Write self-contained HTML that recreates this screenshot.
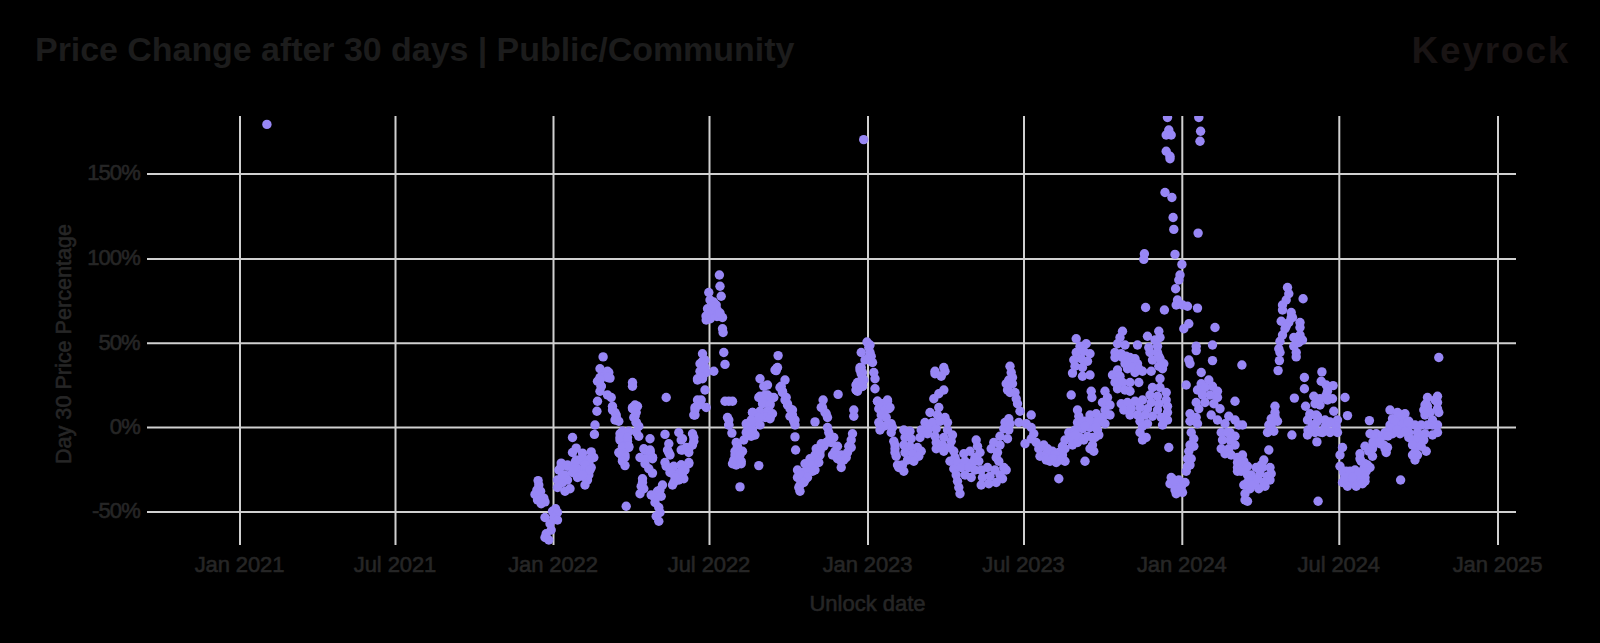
<!DOCTYPE html>
<html><head><meta charset="utf-8"><title>Price Change after 30 days</title>
<style>html,body{margin:0;padding:0;background:#000;width:1600px;height:643px;overflow:hidden}svg{display:block}text{font-family:"Liberation Sans",sans-serif}</style>
</head><body><svg width="1600" height="643" viewBox="0 0 1600 643"><text x="35" y="60.5" fill="#1c1c1c" font-size="34" font-weight="bold" letter-spacing="-0.05">Price Change after 30 days | Public/Community</text><text x="1411.5" y="62.5" fill="#191414" font-size="37" font-weight="bold" letter-spacing="1.8">Keyrock</text><g fill="#262626" stroke="#262626" stroke-width="0.6" font-size="21"><text x="139.8" y="180.3" text-anchor="end" font-size="22" letter-spacing="-0.9">150%</text><text x="139.8" y="265.3" text-anchor="end" font-size="22" letter-spacing="-0.9">100%</text><text x="139.8" y="349.6" text-anchor="end" font-size="22" letter-spacing="-0.9">50%</text><text x="139.8" y="433.8" text-anchor="end" font-size="22" letter-spacing="-0.9">0%</text><text x="139.8" y="518.3" text-anchor="end" font-size="22" letter-spacing="-0.9">-50%</text><text x="239.5" y="572" text-anchor="middle" font-size="22" letter-spacing="-0.1">Jan 2021</text><text x="395.0" y="572" text-anchor="middle" font-size="22" letter-spacing="-0.1">Jul 2021</text><text x="553.0" y="572" text-anchor="middle" font-size="22" letter-spacing="-0.1">Jan 2022</text><text x="709.0" y="572" text-anchor="middle" font-size="22" letter-spacing="-0.1">Jul 2022</text><text x="867.5" y="572" text-anchor="middle" font-size="22" letter-spacing="-0.1">Jan 2023</text><text x="1023.5" y="572" text-anchor="middle" font-size="22" letter-spacing="-0.1">Jul 2023</text><text x="1181.8" y="572" text-anchor="middle" font-size="22" letter-spacing="-0.1">Jan 2024</text><text x="1338.8" y="572" text-anchor="middle" font-size="22" letter-spacing="-0.1">Jul 2024</text><text x="1497.5" y="572" text-anchor="middle" font-size="22" letter-spacing="-0.1">Jan 2025</text><text x="867.5" y="611" text-anchor="middle" font-size="22">Unlock date</text><text transform="translate(70.5 344) rotate(-90)" text-anchor="middle" font-size="21.6">Day 30 Price Percentage</text></g><g stroke="#d0d0d0" stroke-width="2"><line x1="147" y1="174" x2="1516" y2="174"/><line x1="147" y1="259" x2="1516" y2="259"/><line x1="147" y1="343.3" x2="1516" y2="343.3"/><line x1="147" y1="427.5" x2="1516" y2="427.5"/><line x1="147" y1="512" x2="1516" y2="512"/><line x1="240" y1="116" x2="240" y2="545"/><line x1="395.5" y1="116" x2="395.5" y2="545"/><line x1="553.5" y1="116" x2="553.5" y2="545"/><line x1="709.5" y1="116" x2="709.5" y2="545"/><line x1="868" y1="116" x2="868" y2="545"/><line x1="1024" y1="116" x2="1024" y2="545"/><line x1="1182.3" y1="116" x2="1182.3" y2="545"/><line x1="1339.3" y1="116" x2="1339.3" y2="545"/><line x1="1498" y1="116" x2="1498" y2="545"/></g><defs><clipPath id="pc"><rect x="147" y="116" width="1369" height="429"/></clipPath></defs><g fill="#9887f5" clip-path="url(#pc)"><circle cx="538.1" cy="480.6" r="4.7"/><circle cx="538.8" cy="485.0" r="4.7"/><circle cx="536.9" cy="490.0" r="4.7"/><circle cx="540.6" cy="491.2" r="4.7"/><circle cx="535.0" cy="494.4" r="4.7"/><circle cx="540.0" cy="495.6" r="4.7"/><circle cx="543.8" cy="498.1" r="4.7"/><circle cx="537.5" cy="500.0" r="4.7"/><circle cx="545.0" cy="501.9" r="4.7"/><circle cx="541.2" cy="503.8" r="4.7"/><circle cx="555.6" cy="508.8" r="4.7"/><circle cx="572.5" cy="437.5" r="4.7"/><circle cx="594.4" cy="434.4" r="4.7"/><circle cx="576.2" cy="448.1" r="4.7"/><circle cx="572.5" cy="452.5" r="4.7"/><circle cx="582.5" cy="453.1" r="4.7"/><circle cx="591.2" cy="451.9" r="4.7"/><circle cx="593.8" cy="457.5" r="4.7"/><circle cx="561.2" cy="463.1" r="4.7"/><circle cx="558.8" cy="470.0" r="4.7"/><circle cx="567.5" cy="466.2" r="4.7"/><circle cx="575.0" cy="462.5" r="4.7"/><circle cx="582.5" cy="461.2" r="4.7"/><circle cx="588.8" cy="462.5" r="4.7"/><circle cx="591.2" cy="467.5" r="4.7"/><circle cx="577.5" cy="468.8" r="4.7"/><circle cx="585.0" cy="470.0" r="4.7"/><circle cx="572.5" cy="472.5" r="4.7"/><circle cx="565.0" cy="475.0" r="4.7"/><circle cx="557.5" cy="480.0" r="4.7"/><circle cx="562.5" cy="482.5" r="4.7"/><circle cx="557.5" cy="487.5" r="4.7"/><circle cx="565.0" cy="491.2" r="4.7"/><circle cx="570.0" cy="488.8" r="4.7"/><circle cx="567.5" cy="480.0" r="4.7"/><circle cx="577.5" cy="477.5" r="4.7"/><circle cx="582.5" cy="476.2" r="4.7"/><circle cx="587.5" cy="480.0" r="4.7"/><circle cx="585.0" cy="485.0" r="4.7"/><circle cx="588.8" cy="475.0" r="4.7"/><circle cx="620.0" cy="433.8" r="4.7"/><circle cx="627.5" cy="432.5" r="4.7"/><circle cx="636.2" cy="431.9" r="4.7"/><circle cx="620.0" cy="440.0" r="4.7"/><circle cx="627.5" cy="441.2" r="4.7"/><circle cx="622.5" cy="446.2" r="4.7"/><circle cx="628.8" cy="447.5" r="4.7"/><circle cx="618.8" cy="452.5" r="4.7"/><circle cx="625.0" cy="455.0" r="4.7"/><circle cx="622.5" cy="460.0" r="4.7"/><circle cx="625.0" cy="465.6" r="4.7"/><circle cx="638.8" cy="436.2" r="4.7"/><circle cx="650.0" cy="438.8" r="4.7"/><circle cx="665.0" cy="434.4" r="4.7"/><circle cx="678.8" cy="432.5" r="4.7"/><circle cx="682.5" cy="438.8" r="4.7"/><circle cx="692.5" cy="433.8" r="4.7"/><circle cx="693.8" cy="441.2" r="4.7"/><circle cx="688.8" cy="448.8" r="4.7"/><circle cx="681.2" cy="450.0" r="4.7"/><circle cx="668.8" cy="443.8" r="4.7"/><circle cx="668.8" cy="452.5" r="4.7"/><circle cx="643.8" cy="448.8" r="4.7"/><circle cx="650.0" cy="451.2" r="4.7"/><circle cx="652.5" cy="457.5" r="4.7"/><circle cx="640.0" cy="457.5" r="4.7"/><circle cx="645.0" cy="463.8" r="4.7"/><circle cx="648.8" cy="468.8" r="4.7"/><circle cx="652.5" cy="473.1" r="4.7"/><circle cx="665.0" cy="462.5" r="4.7"/><circle cx="672.5" cy="467.5" r="4.7"/><circle cx="681.2" cy="465.0" r="4.7"/><circle cx="688.8" cy="462.5" r="4.7"/><circle cx="682.5" cy="472.5" r="4.7"/><circle cx="675.0" cy="475.0" r="4.7"/><circle cx="683.8" cy="478.8" r="4.7"/><circle cx="673.8" cy="482.5" r="4.7"/><circle cx="642.5" cy="478.8" r="4.7"/><circle cx="641.2" cy="486.2" r="4.7"/><circle cx="640.0" cy="493.8" r="4.7"/><circle cx="662.5" cy="485.0" r="4.7"/><circle cx="657.5" cy="491.2" r="4.7"/><circle cx="653.8" cy="496.2" r="4.7"/><circle cx="655.0" cy="502.5" r="4.7"/><circle cx="658.8" cy="507.5" r="4.7"/><circle cx="626.2" cy="506.2" r="4.7"/><circle cx="603.1" cy="356.9" r="4.7"/><circle cx="600.0" cy="368.8" r="4.7"/><circle cx="608.8" cy="372.5" r="4.7"/><circle cx="610.0" cy="378.1" r="4.7"/><circle cx="600.0" cy="377.5" r="4.7"/><circle cx="605.0" cy="375.0" r="4.7"/><circle cx="597.5" cy="381.2" r="4.7"/><circle cx="601.2" cy="386.2" r="4.7"/><circle cx="600.0" cy="391.2" r="4.7"/><circle cx="607.5" cy="395.0" r="4.7"/><circle cx="611.2" cy="397.5" r="4.7"/><circle cx="597.5" cy="401.2" r="4.7"/><circle cx="596.9" cy="411.2" r="4.7"/><circle cx="612.5" cy="406.2" r="4.7"/><circle cx="615.0" cy="412.5" r="4.7"/><circle cx="616.2" cy="417.5" r="4.7"/><circle cx="618.8" cy="421.2" r="4.7"/><circle cx="595.0" cy="425.0" r="4.7"/><circle cx="632.5" cy="382.5" r="4.7"/><circle cx="632.5" cy="386.2" r="4.7"/><circle cx="666.2" cy="397.5" r="4.7"/><circle cx="635.0" cy="405.0" r="4.7"/><circle cx="632.5" cy="408.8" r="4.7"/><circle cx="636.2" cy="412.5" r="4.7"/><circle cx="633.8" cy="417.5" r="4.7"/><circle cx="636.2" cy="422.5" r="4.7"/><circle cx="638.8" cy="426.2" r="4.7"/><circle cx="697.5" cy="378.8" r="4.7"/><circle cx="697.5" cy="400.0" r="4.7"/><circle cx="695.0" cy="407.5" r="4.7"/><circle cx="693.8" cy="415.0" r="4.7"/><circle cx="719.4" cy="275.0" r="4.7"/><circle cx="720.0" cy="286.2" r="4.7"/><circle cx="721.2" cy="296.2" r="4.7"/><circle cx="708.8" cy="292.5" r="4.7"/><circle cx="710.0" cy="300.0" r="4.7"/><circle cx="716.2" cy="305.0" r="4.7"/><circle cx="707.5" cy="308.8" r="4.7"/><circle cx="713.8" cy="311.2" r="4.7"/><circle cx="720.0" cy="316.2" r="4.7"/><circle cx="706.2" cy="320.0" r="4.7"/><circle cx="722.5" cy="317.5" r="4.7"/><circle cx="722.5" cy="328.8" r="4.7"/><circle cx="723.1" cy="332.5" r="4.7"/><circle cx="702.5" cy="353.8" r="4.7"/><circle cx="705.0" cy="360.0" r="4.7"/><circle cx="702.5" cy="367.5" r="4.7"/><circle cx="706.2" cy="372.5" r="4.7"/><circle cx="713.8" cy="371.2" r="4.7"/><circle cx="702.5" cy="378.8" r="4.7"/><circle cx="705.0" cy="390.0" r="4.7"/><circle cx="701.2" cy="400.0" r="4.7"/><circle cx="706.2" cy="407.5" r="4.7"/><circle cx="723.8" cy="352.5" r="4.7"/><circle cx="725.0" cy="364.4" r="4.7"/><circle cx="728.8" cy="401.2" r="4.7"/><circle cx="727.5" cy="417.5" r="4.7"/><circle cx="728.8" cy="425.0" r="4.7"/><circle cx="778.1" cy="355.6" r="4.7"/><circle cx="776.9" cy="368.1" r="4.7"/><circle cx="776.2" cy="370.6" r="4.7"/><circle cx="760.0" cy="378.8" r="4.7"/><circle cx="767.5" cy="385.0" r="4.7"/><circle cx="763.8" cy="386.2" r="4.7"/><circle cx="785.0" cy="380.0" r="4.7"/><circle cx="781.2" cy="386.2" r="4.7"/><circle cx="782.5" cy="391.2" r="4.7"/><circle cx="760.0" cy="396.2" r="4.7"/><circle cx="767.5" cy="395.0" r="4.7"/><circle cx="773.8" cy="397.5" r="4.7"/><circle cx="765.0" cy="402.5" r="4.7"/><circle cx="770.0" cy="403.8" r="4.7"/><circle cx="786.2" cy="397.5" r="4.7"/><circle cx="787.5" cy="403.8" r="4.7"/><circle cx="790.0" cy="408.8" r="4.7"/><circle cx="792.5" cy="415.0" r="4.7"/><circle cx="793.8" cy="421.2" r="4.7"/><circle cx="795.0" cy="425.0" r="4.7"/><circle cx="752.5" cy="412.5" r="4.7"/><circle cx="760.0" cy="411.2" r="4.7"/><circle cx="766.2" cy="415.0" r="4.7"/><circle cx="770.0" cy="417.5" r="4.7"/><circle cx="746.2" cy="423.8" r="4.7"/><circle cx="753.8" cy="422.5" r="4.7"/><circle cx="760.0" cy="425.0" r="4.7"/><circle cx="838.1" cy="394.4" r="4.7"/><circle cx="823.1" cy="400.0" r="4.7"/><circle cx="821.2" cy="407.5" r="4.7"/><circle cx="825.0" cy="412.5" r="4.7"/><circle cx="827.5" cy="417.5" r="4.7"/><circle cx="815.0" cy="421.9" r="4.7"/><circle cx="827.5" cy="427.5" r="4.7"/><circle cx="853.8" cy="410.0" r="4.7"/><circle cx="853.8" cy="416.2" r="4.7"/><circle cx="861.2" cy="352.5" r="4.7"/><circle cx="868.8" cy="357.5" r="4.7"/><circle cx="872.5" cy="362.5" r="4.7"/><circle cx="860.0" cy="367.5" r="4.7"/><circle cx="861.2" cy="373.8" r="4.7"/><circle cx="873.8" cy="372.5" r="4.7"/><circle cx="875.0" cy="378.8" r="4.7"/><circle cx="857.5" cy="382.5" r="4.7"/><circle cx="862.5" cy="386.2" r="4.7"/><circle cx="856.2" cy="390.0" r="4.7"/><circle cx="875.0" cy="388.8" r="4.7"/><circle cx="877.5" cy="401.2" r="4.7"/><circle cx="887.5" cy="400.0" r="4.7"/><circle cx="881.2" cy="406.2" r="4.7"/><circle cx="888.8" cy="408.8" r="4.7"/><circle cx="883.8" cy="415.0" r="4.7"/><circle cx="878.8" cy="422.5" r="4.7"/><circle cx="891.2" cy="423.8" r="4.7"/><circle cx="883.8" cy="426.2" r="4.7"/><circle cx="731.9" cy="433.1" r="4.7"/><circle cx="746.2" cy="432.5" r="4.7"/><circle cx="751.2" cy="436.2" r="4.7"/><circle cx="743.8" cy="440.0" r="4.7"/><circle cx="736.2" cy="442.5" r="4.7"/><circle cx="737.5" cy="448.8" r="4.7"/><circle cx="742.5" cy="451.2" r="4.7"/><circle cx="735.0" cy="455.0" r="4.7"/><circle cx="733.8" cy="460.0" r="4.7"/><circle cx="741.2" cy="461.2" r="4.7"/><circle cx="736.2" cy="465.0" r="4.7"/><circle cx="758.8" cy="465.6" r="4.7"/><circle cx="740.0" cy="486.9" r="4.7"/><circle cx="795.0" cy="436.9" r="4.7"/><circle cx="795.6" cy="450.0" r="4.7"/><circle cx="828.8" cy="432.5" r="4.7"/><circle cx="833.8" cy="437.5" r="4.7"/><circle cx="831.2" cy="442.5" r="4.7"/><circle cx="821.2" cy="443.8" r="4.7"/><circle cx="816.2" cy="448.8" r="4.7"/><circle cx="852.5" cy="433.8" r="4.7"/><circle cx="851.2" cy="440.0" r="4.7"/><circle cx="848.8" cy="446.2" r="4.7"/><circle cx="847.5" cy="452.5" r="4.7"/><circle cx="841.2" cy="455.0" r="4.7"/><circle cx="835.0" cy="451.2" r="4.7"/><circle cx="837.5" cy="458.8" r="4.7"/><circle cx="843.8" cy="460.0" r="4.7"/><circle cx="841.2" cy="467.5" r="4.7"/><circle cx="820.0" cy="455.0" r="4.7"/><circle cx="817.5" cy="460.0" r="4.7"/><circle cx="812.5" cy="463.8" r="4.7"/><circle cx="807.5" cy="467.5" r="4.7"/><circle cx="797.5" cy="470.0" r="4.7"/><circle cx="802.5" cy="472.5" r="4.7"/><circle cx="812.5" cy="471.2" r="4.7"/><circle cx="797.5" cy="477.5" r="4.7"/><circle cx="805.0" cy="480.0" r="4.7"/><circle cx="800.0" cy="485.0" r="4.7"/><circle cx="800.0" cy="491.2" r="4.7"/><circle cx="880.0" cy="430.0" r="4.7"/><circle cx="891.2" cy="432.5" r="4.7"/><circle cx="893.8" cy="441.2" r="4.7"/><circle cx="895.0" cy="448.8" r="4.7"/><circle cx="896.2" cy="456.2" r="4.7"/><circle cx="898.8" cy="467.5" r="4.7"/><circle cx="935.0" cy="371.2" r="4.7"/><circle cx="943.8" cy="367.5" r="4.7"/><circle cx="941.2" cy="376.2" r="4.7"/><circle cx="943.8" cy="390.0" r="4.7"/><circle cx="938.8" cy="393.8" r="4.7"/><circle cx="933.8" cy="398.8" r="4.7"/><circle cx="938.8" cy="407.5" r="4.7"/><circle cx="930.0" cy="412.5" r="4.7"/><circle cx="937.5" cy="415.0" r="4.7"/><circle cx="945.0" cy="417.5" r="4.7"/><circle cx="1010.0" cy="366.2" r="4.7"/><circle cx="1011.2" cy="372.5" r="4.7"/><circle cx="1008.8" cy="380.0" r="4.7"/><circle cx="1012.5" cy="383.8" r="4.7"/><circle cx="1007.5" cy="390.0" r="4.7"/><circle cx="1015.0" cy="392.5" r="4.7"/><circle cx="1016.2" cy="398.8" r="4.7"/><circle cx="1017.5" cy="403.8" r="4.7"/><circle cx="1020.0" cy="411.2" r="4.7"/><circle cx="1031.2" cy="415.0" r="4.7"/><circle cx="1008.8" cy="418.8" r="4.7"/><circle cx="867.0" cy="342.0" r="4.7"/><circle cx="870.0" cy="345.0" r="4.7"/><circle cx="863.7" cy="139.6" r="4.7"/><circle cx="903.8" cy="430.0" r="4.7"/><circle cx="910.0" cy="431.2" r="4.7"/><circle cx="905.0" cy="437.5" r="4.7"/><circle cx="911.2" cy="438.8" r="4.7"/><circle cx="903.8" cy="445.0" r="4.7"/><circle cx="910.0" cy="446.2" r="4.7"/><circle cx="917.5" cy="447.5" r="4.7"/><circle cx="921.2" cy="451.2" r="4.7"/><circle cx="905.0" cy="452.5" r="4.7"/><circle cx="912.5" cy="453.8" r="4.7"/><circle cx="918.8" cy="456.2" r="4.7"/><circle cx="907.5" cy="460.0" r="4.7"/><circle cx="913.8" cy="461.2" r="4.7"/><circle cx="902.5" cy="465.0" r="4.7"/><circle cx="903.8" cy="471.2" r="4.7"/><circle cx="925.0" cy="422.5" r="4.7"/><circle cx="932.5" cy="422.5" r="4.7"/><circle cx="940.0" cy="421.2" r="4.7"/><circle cx="947.5" cy="422.5" r="4.7"/><circle cx="921.2" cy="430.0" r="4.7"/><circle cx="928.8" cy="428.8" r="4.7"/><circle cx="936.2" cy="428.8" r="4.7"/><circle cx="947.5" cy="430.0" r="4.7"/><circle cx="952.5" cy="435.0" r="4.7"/><circle cx="920.0" cy="437.5" r="4.7"/><circle cx="927.5" cy="433.8" r="4.7"/><circle cx="935.0" cy="436.2" r="4.7"/><circle cx="943.8" cy="437.5" r="4.7"/><circle cx="951.2" cy="441.2" r="4.7"/><circle cx="936.2" cy="442.5" r="4.7"/><circle cx="942.5" cy="445.0" r="4.7"/><circle cx="950.0" cy="447.5" r="4.7"/><circle cx="936.2" cy="448.8" r="4.7"/><circle cx="943.8" cy="451.2" r="4.7"/><circle cx="953.8" cy="451.2" r="4.7"/><circle cx="976.2" cy="440.0" r="4.7"/><circle cx="977.5" cy="446.2" r="4.7"/><circle cx="980.0" cy="452.5" r="4.7"/><circle cx="975.0" cy="457.5" r="4.7"/><circle cx="970.0" cy="451.2" r="4.7"/><circle cx="963.8" cy="453.8" r="4.7"/><circle cx="955.0" cy="457.5" r="4.7"/><circle cx="950.0" cy="461.2" r="4.7"/><circle cx="957.5" cy="462.5" r="4.7"/><circle cx="965.0" cy="461.2" r="4.7"/><circle cx="972.5" cy="462.5" r="4.7"/><circle cx="978.8" cy="461.2" r="4.7"/><circle cx="953.8" cy="468.8" r="4.7"/><circle cx="961.2" cy="467.5" r="4.7"/><circle cx="968.8" cy="467.5" r="4.7"/><circle cx="975.0" cy="470.0" r="4.7"/><circle cx="956.2" cy="475.0" r="4.7"/><circle cx="965.0" cy="475.0" r="4.7"/><circle cx="971.2" cy="477.5" r="4.7"/><circle cx="957.5" cy="481.2" r="4.7"/><circle cx="958.8" cy="487.5" r="4.7"/><circle cx="960.0" cy="493.8" r="4.7"/><circle cx="981.2" cy="470.0" r="4.7"/><circle cx="987.5" cy="467.5" r="4.7"/><circle cx="995.0" cy="470.0" r="4.7"/><circle cx="1003.8" cy="467.5" r="4.7"/><circle cx="982.5" cy="477.5" r="4.7"/><circle cx="990.0" cy="476.2" r="4.7"/><circle cx="1000.0" cy="475.0" r="4.7"/><circle cx="1006.2" cy="470.0" r="4.7"/><circle cx="981.2" cy="485.0" r="4.7"/><circle cx="988.8" cy="483.8" r="4.7"/><circle cx="996.2" cy="482.5" r="4.7"/><circle cx="1002.5" cy="478.8" r="4.7"/><circle cx="1005.0" cy="422.5" r="4.7"/><circle cx="1010.0" cy="423.8" r="4.7"/><circle cx="1003.8" cy="428.8" r="4.7"/><circle cx="1008.8" cy="430.0" r="4.7"/><circle cx="1000.0" cy="436.2" r="4.7"/><circle cx="1007.5" cy="438.8" r="4.7"/><circle cx="993.8" cy="442.5" r="4.7"/><circle cx="1000.0" cy="445.0" r="4.7"/><circle cx="991.2" cy="448.8" r="4.7"/><circle cx="997.5" cy="452.5" r="4.7"/><circle cx="996.2" cy="457.5" r="4.7"/><circle cx="998.8" cy="461.2" r="4.7"/><circle cx="1018.8" cy="422.5" r="4.7"/><circle cx="1026.2" cy="423.8" r="4.7"/><circle cx="1031.2" cy="427.5" r="4.7"/><circle cx="1033.8" cy="433.8" r="4.7"/><circle cx="1025.0" cy="443.8" r="4.7"/><circle cx="1031.2" cy="438.8" r="4.7"/><circle cx="1036.2" cy="442.5" r="4.7"/><circle cx="1038.8" cy="448.8" r="4.7"/><circle cx="1043.8" cy="445.0" r="4.7"/><circle cx="1040.0" cy="456.2" r="4.7"/><circle cx="1046.2" cy="453.8" r="4.7"/><circle cx="1052.5" cy="451.2" r="4.7"/><circle cx="1058.8" cy="452.5" r="4.7"/><circle cx="1062.5" cy="455.0" r="4.7"/><circle cx="1065.0" cy="461.2" r="4.7"/><circle cx="1050.0" cy="461.2" r="4.7"/><circle cx="1056.2" cy="462.5" r="4.7"/><circle cx="1085.0" cy="461.2" r="4.7"/><circle cx="1058.8" cy="478.8" r="4.7"/><circle cx="1077.5" cy="422.5" r="4.7"/><circle cx="1085.0" cy="421.2" r="4.7"/><circle cx="1095.0" cy="422.5" r="4.7"/><circle cx="1068.8" cy="432.5" r="4.7"/><circle cx="1075.0" cy="430.0" r="4.7"/><circle cx="1082.5" cy="428.8" r="4.7"/><circle cx="1090.0" cy="427.5" r="4.7"/><circle cx="1097.5" cy="430.0" r="4.7"/><circle cx="1065.0" cy="440.0" r="4.7"/><circle cx="1072.5" cy="438.8" r="4.7"/><circle cx="1080.0" cy="437.5" r="4.7"/><circle cx="1087.5" cy="436.2" r="4.7"/><circle cx="1095.0" cy="437.5" r="4.7"/><circle cx="1062.5" cy="446.2" r="4.7"/><circle cx="1072.5" cy="445.0" r="4.7"/><circle cx="1092.5" cy="445.0" r="4.7"/><circle cx="1093.8" cy="451.2" r="4.7"/><circle cx="1167.5" cy="117.5" r="4.7"/><circle cx="1198.8" cy="117.5" r="4.7"/><circle cx="1168.8" cy="130.0" r="4.7"/><circle cx="1166.2" cy="135.0" r="4.7"/><circle cx="1171.2" cy="135.0" r="4.7"/><circle cx="1200.6" cy="131.2" r="4.7"/><circle cx="1200.0" cy="141.2" r="4.7"/><circle cx="1166.2" cy="151.2" r="4.7"/><circle cx="1170.0" cy="156.2" r="4.7"/><circle cx="1170.0" cy="158.8" r="4.7"/><circle cx="1165.0" cy="192.5" r="4.7"/><circle cx="1171.9" cy="197.5" r="4.7"/><circle cx="1173.1" cy="217.5" r="4.7"/><circle cx="1173.8" cy="229.4" r="4.7"/><circle cx="1198.1" cy="233.1" r="4.7"/><circle cx="1144.4" cy="253.8" r="4.7"/><circle cx="1143.8" cy="259.4" r="4.7"/><circle cx="1175.0" cy="254.4" r="4.7"/><circle cx="1181.9" cy="264.4" r="4.7"/><circle cx="1180.0" cy="275.0" r="4.7"/><circle cx="1178.8" cy="280.0" r="4.7"/><circle cx="1175.6" cy="288.8" r="4.7"/><circle cx="1177.5" cy="300.0" r="4.7"/><circle cx="1176.2" cy="305.0" r="4.7"/><circle cx="1182.5" cy="305.0" r="4.7"/><circle cx="1187.5" cy="306.2" r="4.7"/><circle cx="1197.5" cy="308.1" r="4.7"/><circle cx="1145.6" cy="307.5" r="4.7"/><circle cx="1164.4" cy="310.0" r="4.7"/><circle cx="1188.8" cy="323.8" r="4.7"/><circle cx="1183.8" cy="328.8" r="4.7"/><circle cx="1215.0" cy="327.5" r="4.7"/><circle cx="1122.5" cy="331.2" r="4.7"/><circle cx="1120.0" cy="337.5" r="4.7"/><circle cx="1117.5" cy="343.8" r="4.7"/><circle cx="1125.0" cy="345.0" r="4.7"/><circle cx="1076.2" cy="338.8" r="4.7"/><circle cx="1086.2" cy="343.8" r="4.7"/><circle cx="1080.0" cy="346.2" r="4.7"/><circle cx="1147.5" cy="336.2" r="4.7"/><circle cx="1158.8" cy="331.2" r="4.7"/><circle cx="1160.0" cy="337.5" r="4.7"/><circle cx="1155.0" cy="340.0" r="4.7"/><circle cx="1137.5" cy="345.0" r="4.7"/><circle cx="1148.8" cy="347.5" r="4.7"/><circle cx="1157.5" cy="346.2" r="4.7"/><circle cx="1196.2" cy="346.2" r="4.7"/><circle cx="1212.5" cy="345.0" r="4.7"/><circle cx="1076.2" cy="352.5" r="4.7"/><circle cx="1083.8" cy="351.2" r="4.7"/><circle cx="1090.0" cy="353.8" r="4.7"/><circle cx="1073.8" cy="360.0" r="4.7"/><circle cx="1081.2" cy="358.8" r="4.7"/><circle cx="1087.5" cy="361.2" r="4.7"/><circle cx="1075.0" cy="366.2" r="4.7"/><circle cx="1082.5" cy="367.5" r="4.7"/><circle cx="1072.5" cy="373.1" r="4.7"/><circle cx="1082.5" cy="376.2" r="4.7"/><circle cx="1090.0" cy="375.0" r="4.7"/><circle cx="1071.2" cy="395.0" r="4.7"/><circle cx="1091.2" cy="391.2" r="4.7"/><circle cx="1091.9" cy="397.5" r="4.7"/><circle cx="1105.0" cy="391.2" r="4.7"/><circle cx="1107.5" cy="397.5" r="4.7"/><circle cx="1102.5" cy="402.5" r="4.7"/><circle cx="1110.0" cy="405.0" r="4.7"/><circle cx="1105.0" cy="410.0" r="4.7"/><circle cx="1110.0" cy="415.0" r="4.7"/><circle cx="1077.5" cy="410.0" r="4.7"/><circle cx="1078.8" cy="416.2" r="4.7"/><circle cx="1090.0" cy="415.0" r="4.7"/><circle cx="1096.2" cy="413.8" r="4.7"/><circle cx="1102.5" cy="417.5" r="4.7"/><circle cx="1081.2" cy="422.5" r="4.7"/><circle cx="1090.0" cy="421.2" r="4.7"/><circle cx="1097.5" cy="422.5" r="4.7"/><circle cx="1105.0" cy="423.8" r="4.7"/><circle cx="1085.0" cy="426.2" r="4.7"/><circle cx="1096.2" cy="426.9" r="4.7"/><circle cx="1115.0" cy="352.5" r="4.7"/><circle cx="1121.2" cy="353.8" r="4.7"/><circle cx="1126.2" cy="356.2" r="4.7"/><circle cx="1131.2" cy="362.5" r="4.7"/><circle cx="1137.5" cy="363.8" r="4.7"/><circle cx="1127.5" cy="368.8" r="4.7"/><circle cx="1117.5" cy="370.0" r="4.7"/><circle cx="1112.5" cy="375.0" r="4.7"/><circle cx="1120.0" cy="376.2" r="4.7"/><circle cx="1135.0" cy="372.5" r="4.7"/><circle cx="1142.5" cy="371.2" r="4.7"/><circle cx="1151.2" cy="371.2" r="4.7"/><circle cx="1158.8" cy="366.2" r="4.7"/><circle cx="1162.5" cy="368.8" r="4.7"/><circle cx="1160.0" cy="378.8" r="4.7"/><circle cx="1115.0" cy="382.5" r="4.7"/><circle cx="1122.5" cy="382.5" r="4.7"/><circle cx="1130.0" cy="382.5" r="4.7"/><circle cx="1138.8" cy="382.5" r="4.7"/><circle cx="1117.5" cy="388.8" r="4.7"/><circle cx="1125.0" cy="390.0" r="4.7"/><circle cx="1130.0" cy="391.2" r="4.7"/><circle cx="1150.0" cy="352.5" r="4.7"/><circle cx="1157.5" cy="352.5" r="4.7"/><circle cx="1152.5" cy="360.0" r="4.7"/><circle cx="1160.0" cy="358.8" r="4.7"/><circle cx="1152.5" cy="387.5" r="4.7"/><circle cx="1160.0" cy="387.5" r="4.7"/><circle cx="1166.2" cy="392.5" r="4.7"/><circle cx="1150.0" cy="395.0" r="4.7"/><circle cx="1157.5" cy="396.2" r="4.7"/><circle cx="1166.2" cy="400.0" r="4.7"/><circle cx="1151.2" cy="402.5" r="4.7"/><circle cx="1158.8" cy="403.8" r="4.7"/><circle cx="1167.5" cy="406.2" r="4.7"/><circle cx="1121.2" cy="403.8" r="4.7"/><circle cx="1127.5" cy="402.5" r="4.7"/><circle cx="1135.0" cy="401.2" r="4.7"/><circle cx="1142.5" cy="400.0" r="4.7"/><circle cx="1123.8" cy="410.0" r="4.7"/><circle cx="1131.2" cy="408.8" r="4.7"/><circle cx="1140.0" cy="407.5" r="4.7"/><circle cx="1147.5" cy="408.8" r="4.7"/><circle cx="1157.5" cy="410.0" r="4.7"/><circle cx="1167.5" cy="412.5" r="4.7"/><circle cx="1130.0" cy="415.0" r="4.7"/><circle cx="1137.5" cy="415.0" r="4.7"/><circle cx="1145.0" cy="415.0" r="4.7"/><circle cx="1152.5" cy="416.2" r="4.7"/><circle cx="1161.2" cy="417.5" r="4.7"/><circle cx="1167.5" cy="420.0" r="4.7"/><circle cx="1140.0" cy="421.2" r="4.7"/><circle cx="1147.5" cy="423.8" r="4.7"/><circle cx="1162.5" cy="425.0" r="4.7"/><circle cx="1142.5" cy="426.2" r="4.7"/><circle cx="1188.8" cy="360.0" r="4.7"/><circle cx="1190.0" cy="363.8" r="4.7"/><circle cx="1212.5" cy="360.6" r="4.7"/><circle cx="1201.2" cy="372.5" r="4.7"/><circle cx="1186.2" cy="385.0" r="4.7"/><circle cx="1201.2" cy="383.8" r="4.7"/><circle cx="1208.8" cy="380.0" r="4.7"/><circle cx="1197.5" cy="390.0" r="4.7"/><circle cx="1205.0" cy="387.5" r="4.7"/><circle cx="1212.5" cy="386.2" r="4.7"/><circle cx="1217.5" cy="391.2" r="4.7"/><circle cx="1202.5" cy="395.0" r="4.7"/><circle cx="1210.0" cy="395.0" r="4.7"/><circle cx="1217.5" cy="397.5" r="4.7"/><circle cx="1196.2" cy="402.5" r="4.7"/><circle cx="1205.0" cy="402.5" r="4.7"/><circle cx="1213.8" cy="403.8" r="4.7"/><circle cx="1220.0" cy="408.8" r="4.7"/><circle cx="1198.8" cy="408.8" r="4.7"/><circle cx="1235.0" cy="401.2" r="4.7"/><circle cx="1190.0" cy="413.8" r="4.7"/><circle cx="1196.2" cy="417.5" r="4.7"/><circle cx="1190.0" cy="421.2" r="4.7"/><circle cx="1197.5" cy="423.8" r="4.7"/><circle cx="1211.2" cy="415.0" r="4.7"/><circle cx="1217.5" cy="420.0" r="4.7"/><circle cx="1225.0" cy="423.8" r="4.7"/><circle cx="1228.8" cy="416.2" r="4.7"/><circle cx="1235.0" cy="420.0" r="4.7"/><circle cx="1238.8" cy="425.0" r="4.7"/><circle cx="1196.2" cy="350.6" r="4.7"/><circle cx="1140.0" cy="432.5" r="4.7"/><circle cx="1146.2" cy="437.5" r="4.7"/><circle cx="1142.5" cy="440.0" r="4.7"/><circle cx="1168.8" cy="447.5" r="4.7"/><circle cx="1171.2" cy="477.5" r="4.7"/><circle cx="1170.0" cy="483.8" r="4.7"/><circle cx="1178.8" cy="480.0" r="4.7"/><circle cx="1185.0" cy="482.5" r="4.7"/><circle cx="1177.5" cy="488.8" r="4.7"/><circle cx="1182.5" cy="492.5" r="4.7"/><circle cx="1176.2" cy="493.8" r="4.7"/><circle cx="1191.2" cy="432.5" r="4.7"/><circle cx="1193.8" cy="438.8" r="4.7"/><circle cx="1190.0" cy="445.0" r="4.7"/><circle cx="1188.8" cy="451.2" r="4.7"/><circle cx="1187.5" cy="458.8" r="4.7"/><circle cx="1187.5" cy="466.2" r="4.7"/><circle cx="1186.2" cy="471.2" r="4.7"/><circle cx="1221.2" cy="432.5" r="4.7"/><circle cx="1230.0" cy="432.5" r="4.7"/><circle cx="1235.0" cy="436.2" r="4.7"/><circle cx="1222.5" cy="440.0" r="4.7"/><circle cx="1221.2" cy="448.8" r="4.7"/><circle cx="1225.0" cy="453.8" r="4.7"/><circle cx="1235.0" cy="445.0" r="4.7"/><circle cx="1237.5" cy="457.5" r="4.7"/><circle cx="1237.5" cy="467.5" r="4.7"/><circle cx="1237.5" cy="471.2" r="4.7"/><circle cx="1287.5" cy="287.5" r="4.7"/><circle cx="1288.8" cy="293.8" r="4.7"/><circle cx="1286.2" cy="300.0" r="4.7"/><circle cx="1282.5" cy="305.0" r="4.7"/><circle cx="1282.5" cy="310.0" r="4.7"/><circle cx="1291.2" cy="312.5" r="4.7"/><circle cx="1292.5" cy="317.5" r="4.7"/><circle cx="1281.2" cy="321.2" r="4.7"/><circle cx="1288.8" cy="322.5" r="4.7"/><circle cx="1300.0" cy="322.5" r="4.7"/><circle cx="1300.0" cy="327.5" r="4.7"/><circle cx="1285.0" cy="328.8" r="4.7"/><circle cx="1282.5" cy="335.0" r="4.7"/><circle cx="1300.0" cy="335.0" r="4.7"/><circle cx="1293.8" cy="337.5" r="4.7"/><circle cx="1280.0" cy="341.2" r="4.7"/><circle cx="1298.8" cy="342.5" r="4.7"/><circle cx="1293.8" cy="346.2" r="4.7"/><circle cx="1278.8" cy="348.8" r="4.7"/><circle cx="1303.1" cy="298.8" r="4.7"/><circle cx="1280.0" cy="352.5" r="4.7"/><circle cx="1296.2" cy="352.5" r="4.7"/><circle cx="1296.2" cy="356.9" r="4.7"/><circle cx="1279.4" cy="360.6" r="4.7"/><circle cx="1278.1" cy="370.6" r="4.7"/><circle cx="1241.9" cy="365.0" r="4.7"/><circle cx="1321.9" cy="371.9" r="4.7"/><circle cx="1304.4" cy="377.5" r="4.7"/><circle cx="1321.2" cy="381.2" r="4.7"/><circle cx="1326.2" cy="385.0" r="4.7"/><circle cx="1333.1" cy="385.6" r="4.7"/><circle cx="1304.4" cy="388.8" r="4.7"/><circle cx="1294.4" cy="398.1" r="4.7"/><circle cx="1313.8" cy="396.2" r="4.7"/><circle cx="1326.2" cy="395.0" r="4.7"/><circle cx="1332.5" cy="398.8" r="4.7"/><circle cx="1317.5" cy="401.2" r="4.7"/><circle cx="1320.0" cy="405.0" r="4.7"/><circle cx="1305.6" cy="406.2" r="4.7"/><circle cx="1333.8" cy="411.2" r="4.7"/><circle cx="1345.0" cy="397.5" r="4.7"/><circle cx="1347.5" cy="415.6" r="4.7"/><circle cx="1369.4" cy="420.6" r="4.7"/><circle cx="1275.0" cy="406.2" r="4.7"/><circle cx="1275.0" cy="412.5" r="4.7"/><circle cx="1271.2" cy="418.8" r="4.7"/><circle cx="1277.5" cy="421.2" r="4.7"/><circle cx="1268.8" cy="425.0" r="4.7"/><circle cx="1242.5" cy="425.0" r="4.7"/><circle cx="1310.0" cy="413.8" r="4.7"/><circle cx="1316.2" cy="415.0" r="4.7"/><circle cx="1307.5" cy="420.0" r="4.7"/><circle cx="1317.5" cy="421.2" r="4.7"/><circle cx="1330.0" cy="422.5" r="4.7"/><circle cx="1337.5" cy="420.0" r="4.7"/><circle cx="1336.2" cy="426.2" r="4.7"/><circle cx="1312.5" cy="426.2" r="4.7"/><circle cx="1438.8" cy="357.5" r="4.7"/><circle cx="1390.0" cy="410.0" r="4.7"/><circle cx="1397.5" cy="412.5" r="4.7"/><circle cx="1405.0" cy="413.8" r="4.7"/><circle cx="1392.5" cy="418.8" r="4.7"/><circle cx="1401.2" cy="420.0" r="4.7"/><circle cx="1408.8" cy="421.2" r="4.7"/><circle cx="1415.0" cy="425.0" r="4.7"/><circle cx="1395.0" cy="426.2" r="4.7"/><circle cx="1427.5" cy="397.5" r="4.7"/><circle cx="1426.2" cy="403.8" r="4.7"/><circle cx="1423.8" cy="410.0" r="4.7"/><circle cx="1425.0" cy="415.0" r="4.7"/><circle cx="1437.5" cy="396.2" r="4.7"/><circle cx="1437.5" cy="402.5" r="4.7"/><circle cx="1437.5" cy="408.8" r="4.7"/><circle cx="1432.5" cy="420.0" r="4.7"/><circle cx="1437.5" cy="425.0" r="4.7"/><circle cx="1421.2" cy="425.0" r="4.7"/><circle cx="1267.5" cy="432.5" r="4.7"/><circle cx="1273.8" cy="431.2" r="4.7"/><circle cx="1291.9" cy="435.0" r="4.7"/><circle cx="1268.8" cy="450.0" r="4.7"/><circle cx="1242.5" cy="455.0" r="4.7"/><circle cx="1243.8" cy="461.2" r="4.7"/><circle cx="1263.8" cy="460.0" r="4.7"/><circle cx="1270.0" cy="467.5" r="4.7"/><circle cx="1256.2" cy="467.5" r="4.7"/><circle cx="1245.0" cy="471.2" r="4.7"/><circle cx="1251.2" cy="475.0" r="4.7"/><circle cx="1260.0" cy="473.8" r="4.7"/><circle cx="1267.5" cy="476.2" r="4.7"/><circle cx="1247.5" cy="482.5" r="4.7"/><circle cx="1255.0" cy="482.5" r="4.7"/><circle cx="1263.8" cy="482.5" r="4.7"/><circle cx="1270.0" cy="480.0" r="4.7"/><circle cx="1250.0" cy="488.8" r="4.7"/><circle cx="1258.8" cy="488.8" r="4.7"/><circle cx="1245.0" cy="493.8" r="4.7"/><circle cx="1245.0" cy="500.0" r="4.7"/><circle cx="1247.5" cy="501.2" r="4.7"/><circle cx="1318.1" cy="501.2" r="4.7"/><circle cx="1307.5" cy="435.0" r="4.7"/><circle cx="1315.0" cy="432.5" r="4.7"/><circle cx="1322.5" cy="432.5" r="4.7"/><circle cx="1330.0" cy="432.5" r="4.7"/><circle cx="1337.5" cy="432.5" r="4.7"/><circle cx="1316.9" cy="441.9" r="4.7"/><circle cx="1342.5" cy="447.5" r="4.7"/><circle cx="1340.0" cy="455.0" r="4.7"/><circle cx="1340.0" cy="466.2" r="4.7"/><circle cx="1370.0" cy="433.8" r="4.7"/><circle cx="1377.5" cy="437.5" r="4.7"/><circle cx="1385.0" cy="432.5" r="4.7"/><circle cx="1392.5" cy="433.8" r="4.7"/><circle cx="1400.0" cy="433.8" r="4.7"/><circle cx="1408.8" cy="432.5" r="4.7"/><circle cx="1417.5" cy="432.5" r="4.7"/><circle cx="1425.0" cy="433.8" r="4.7"/><circle cx="1432.5" cy="435.0" r="4.7"/><circle cx="1437.5" cy="432.5" r="4.7"/><circle cx="1412.5" cy="440.0" r="4.7"/><circle cx="1421.2" cy="441.2" r="4.7"/><circle cx="1415.0" cy="446.2" r="4.7"/><circle cx="1426.2" cy="451.2" r="4.7"/><circle cx="1415.0" cy="452.5" r="4.7"/><circle cx="1415.0" cy="460.0" r="4.7"/><circle cx="1372.5" cy="446.2" r="4.7"/><circle cx="1380.0" cy="443.8" r="4.7"/><circle cx="1385.0" cy="448.8" r="4.7"/><circle cx="1386.2" cy="452.5" r="4.7"/><circle cx="1368.8" cy="451.2" r="4.7"/><circle cx="1360.0" cy="453.8" r="4.7"/><circle cx="1372.5" cy="456.2" r="4.7"/><circle cx="1361.2" cy="461.2" r="4.7"/><circle cx="1367.5" cy="465.0" r="4.7"/><circle cx="1346.2" cy="471.2" r="4.7"/><circle cx="1355.0" cy="470.0" r="4.7"/><circle cx="1363.8" cy="468.8" r="4.7"/><circle cx="1345.0" cy="477.5" r="4.7"/><circle cx="1352.5" cy="477.5" r="4.7"/><circle cx="1361.2" cy="476.2" r="4.7"/><circle cx="1346.2" cy="483.8" r="4.7"/><circle cx="1355.0" cy="483.8" r="4.7"/><circle cx="1365.0" cy="481.2" r="4.7"/><circle cx="1400.6" cy="480.0" r="4.7"/><circle cx="552.5" cy="511.2" r="4.7"/><circle cx="557.5" cy="512.5" r="4.7"/><circle cx="545.0" cy="517.5" r="4.7"/><circle cx="553.8" cy="517.5" r="4.7"/><circle cx="557.5" cy="520.0" r="4.7"/><circle cx="550.0" cy="523.8" r="4.7"/><circle cx="551.2" cy="530.0" r="4.7"/><circle cx="546.2" cy="533.8" r="4.7"/><circle cx="545.0" cy="537.5" r="4.7"/><circle cx="548.8" cy="540.0" r="4.7"/><circle cx="660.0" cy="512.5" r="4.7"/><circle cx="656.2" cy="516.2" r="4.7"/><circle cx="658.8" cy="521.2" r="4.7"/><circle cx="612.5" cy="410.0" r="4.7"/><circle cx="616.2" cy="415.0" r="4.7"/><circle cx="615.0" cy="420.0" r="4.7"/><circle cx="632.5" cy="407.5" r="4.7"/><circle cx="637.5" cy="406.2" r="4.7"/><circle cx="635.0" cy="416.2" r="4.7"/><circle cx="636.2" cy="422.5" r="4.7"/><circle cx="622.5" cy="431.2" r="4.7"/><circle cx="628.8" cy="431.2" r="4.7"/><circle cx="620.0" cy="437.5" r="4.7"/><circle cx="627.5" cy="437.5" r="4.7"/><circle cx="622.5" cy="447.5" r="4.7"/><circle cx="628.8" cy="446.2" r="4.7"/><circle cx="620.0" cy="453.8" r="4.7"/><circle cx="625.0" cy="457.5" r="4.7"/><circle cx="622.5" cy="461.2" r="4.7"/><circle cx="645.0" cy="450.0" r="4.7"/><circle cx="650.0" cy="452.5" r="4.7"/><circle cx="652.5" cy="457.5" r="4.7"/><circle cx="645.0" cy="458.8" r="4.7"/><circle cx="667.5" cy="450.0" r="4.7"/><circle cx="670.0" cy="455.0" r="4.7"/><circle cx="681.2" cy="440.0" r="4.7"/><circle cx="686.2" cy="447.5" r="4.7"/><circle cx="692.5" cy="445.0" r="4.7"/><circle cx="682.5" cy="450.0" r="4.7"/><circle cx="688.8" cy="452.5" r="4.7"/><circle cx="693.8" cy="437.5" r="4.7"/><circle cx="666.2" cy="466.2" r="4.7"/><circle cx="673.8" cy="466.2" r="4.7"/><circle cx="681.2" cy="465.0" r="4.7"/><circle cx="688.8" cy="463.8" r="4.7"/><circle cx="670.0" cy="472.5" r="4.7"/><circle cx="680.0" cy="472.5" r="4.7"/><circle cx="685.0" cy="470.0" r="4.7"/><circle cx="561.2" cy="466.2" r="4.7"/><circle cx="567.5" cy="465.0" r="4.7"/><circle cx="576.2" cy="460.0" r="4.7"/><circle cx="582.5" cy="457.5" r="4.7"/><circle cx="590.0" cy="458.8" r="4.7"/><circle cx="585.0" cy="465.0" r="4.7"/><circle cx="573.8" cy="468.8" r="4.7"/><circle cx="590.0" cy="470.0" r="4.7"/><circle cx="562.5" cy="475.0" r="4.7"/><circle cx="582.5" cy="475.0" r="4.7"/><circle cx="695.0" cy="410.0" r="4.7"/><circle cx="698.8" cy="405.0" r="4.7"/><circle cx="695.0" cy="415.0" r="4.7"/><circle cx="607.5" cy="371.2" r="4.7"/><circle cx="607.5" cy="377.5" r="4.7"/><circle cx="600.0" cy="380.0" r="4.7"/><circle cx="601.2" cy="386.2" r="4.7"/><circle cx="702.5" cy="361.2" r="4.7"/><circle cx="700.0" cy="371.2" r="4.7"/><circle cx="705.0" cy="367.5" r="4.7"/><circle cx="697.5" cy="380.0" r="4.7"/><circle cx="725.0" cy="401.2" r="4.7"/><circle cx="732.5" cy="401.2" r="4.7"/><circle cx="777.5" cy="367.5" r="4.7"/><circle cx="775.0" cy="370.0" r="4.7"/><circle cx="758.8" cy="397.5" r="4.7"/><circle cx="765.0" cy="395.0" r="4.7"/><circle cx="771.2" cy="397.5" r="4.7"/><circle cx="762.5" cy="403.8" r="4.7"/><circle cx="770.0" cy="405.0" r="4.7"/><circle cx="767.5" cy="411.2" r="4.7"/><circle cx="772.5" cy="413.8" r="4.7"/><circle cx="765.0" cy="417.5" r="4.7"/><circle cx="770.0" cy="418.8" r="4.7"/><circle cx="752.5" cy="412.5" r="4.7"/><circle cx="758.8" cy="417.5" r="4.7"/><circle cx="751.2" cy="420.0" r="4.7"/><circle cx="747.5" cy="426.2" r="4.7"/><circle cx="752.5" cy="430.0" r="4.7"/><circle cx="747.5" cy="435.0" r="4.7"/><circle cx="755.0" cy="435.0" r="4.7"/><circle cx="780.0" cy="387.5" r="4.7"/><circle cx="782.5" cy="392.5" r="4.7"/><circle cx="785.0" cy="400.0" r="4.7"/><circle cx="787.5" cy="405.0" r="4.7"/><circle cx="792.5" cy="410.0" r="4.7"/><circle cx="790.0" cy="416.2" r="4.7"/><circle cx="795.0" cy="420.0" r="4.7"/><circle cx="728.8" cy="420.0" r="4.7"/><circle cx="728.8" cy="425.0" r="4.7"/><circle cx="861.2" cy="367.5" r="4.7"/><circle cx="862.5" cy="372.5" r="4.7"/><circle cx="856.2" cy="385.0" r="4.7"/><circle cx="862.5" cy="386.2" r="4.7"/><circle cx="857.5" cy="391.2" r="4.7"/><circle cx="877.5" cy="401.2" r="4.7"/><circle cx="882.5" cy="403.8" r="4.7"/><circle cx="887.5" cy="401.2" r="4.7"/><circle cx="878.8" cy="408.8" r="4.7"/><circle cx="885.0" cy="410.0" r="4.7"/><circle cx="890.0" cy="407.5" r="4.7"/><circle cx="881.2" cy="415.0" r="4.7"/><circle cx="886.2" cy="417.5" r="4.7"/><circle cx="880.0" cy="425.0" r="4.7"/><circle cx="887.5" cy="425.0" r="4.7"/><circle cx="892.5" cy="427.5" r="4.7"/><circle cx="700.0" cy="363.8" r="4.7"/><circle cx="703.8" cy="370.0" r="4.7"/><circle cx="702.5" cy="377.5" r="4.7"/><circle cx="822.5" cy="407.5" r="4.7"/><circle cx="826.2" cy="413.8" r="4.7"/><circle cx="815.0" cy="455.0" r="4.7"/><circle cx="810.0" cy="458.8" r="4.7"/><circle cx="805.0" cy="463.8" r="4.7"/><circle cx="812.5" cy="465.0" r="4.7"/><circle cx="818.8" cy="462.5" r="4.7"/><circle cx="807.5" cy="471.2" r="4.7"/><circle cx="815.0" cy="470.0" r="4.7"/><circle cx="800.0" cy="475.0" r="4.7"/><circle cx="807.5" cy="477.5" r="4.7"/><circle cx="803.8" cy="482.5" r="4.7"/><circle cx="798.8" cy="487.5" r="4.7"/><circle cx="820.0" cy="451.2" r="4.7"/><circle cx="823.8" cy="446.2" r="4.7"/><circle cx="826.2" cy="442.5" r="4.7"/><circle cx="837.5" cy="446.2" r="4.7"/><circle cx="841.2" cy="461.2" r="4.7"/><circle cx="846.2" cy="457.5" r="4.7"/><circle cx="832.5" cy="455.0" r="4.7"/><circle cx="830.0" cy="437.5" r="4.7"/><circle cx="851.2" cy="447.5" r="4.7"/><circle cx="737.5" cy="446.2" r="4.7"/><circle cx="735.0" cy="451.2" r="4.7"/><circle cx="740.0" cy="455.0" r="4.7"/><circle cx="732.5" cy="463.8" r="4.7"/><circle cx="741.2" cy="463.8" r="4.7"/><circle cx="895.0" cy="445.0" r="4.7"/><circle cx="895.0" cy="452.5" r="4.7"/><circle cx="897.5" cy="465.0" r="4.7"/><circle cx="868.8" cy="347.5" r="4.7"/><circle cx="870.0" cy="352.5" r="4.7"/><circle cx="871.2" cy="356.2" r="4.7"/><circle cx="865.0" cy="360.0" r="4.7"/><circle cx="860.0" cy="370.0" r="4.7"/><circle cx="862.5" cy="377.5" r="4.7"/><circle cx="856.2" cy="385.0" r="4.7"/><circle cx="861.2" cy="386.2" r="4.7"/><circle cx="863.8" cy="380.0" r="4.7"/><circle cx="856.2" cy="390.0" r="4.7"/><circle cx="935.0" cy="373.8" r="4.7"/><circle cx="945.0" cy="371.2" r="4.7"/><circle cx="1006.2" cy="383.8" r="4.7"/><circle cx="1012.5" cy="377.5" r="4.7"/><circle cx="1010.0" cy="392.5" r="4.7"/><circle cx="713.6" cy="302.0" r="4.7"/><circle cx="717.0" cy="309.8" r="4.7"/><circle cx="709.1" cy="313.2" r="4.7"/><circle cx="717.0" cy="316.5" r="4.7"/><circle cx="710.3" cy="318.8" r="4.7"/><circle cx="713.6" cy="306.5" r="4.7"/><circle cx="720.0" cy="313.0" r="4.7"/><circle cx="706.0" cy="316.0" r="4.7"/><circle cx="1242.5" cy="465.0" r="4.7"/><circle cx="1241.2" cy="471.2" r="4.7"/><circle cx="1247.5" cy="466.2" r="4.7"/><circle cx="1261.2" cy="465.0" r="4.7"/><circle cx="1250.0" cy="480.0" r="4.7"/><circle cx="1243.8" cy="485.0" r="4.7"/><circle cx="1252.5" cy="485.0" r="4.7"/><circle cx="1265.0" cy="486.2" r="4.7"/><circle cx="1271.2" cy="473.8" r="4.7"/><circle cx="1262.5" cy="467.5" r="4.7"/><circle cx="1257.5" cy="478.8" r="4.7"/><circle cx="1247.5" cy="475.0" r="4.7"/><circle cx="1343.8" cy="472.5" r="4.7"/><circle cx="1350.0" cy="471.2" r="4.7"/><circle cx="1358.8" cy="472.5" r="4.7"/><circle cx="1366.2" cy="471.2" r="4.7"/><circle cx="1342.5" cy="482.5" r="4.7"/><circle cx="1350.0" cy="482.5" r="4.7"/><circle cx="1358.8" cy="480.0" r="4.7"/><circle cx="1365.0" cy="477.5" r="4.7"/><circle cx="1347.5" cy="486.2" r="4.7"/><circle cx="1356.2" cy="486.2" r="4.7"/><circle cx="1362.5" cy="483.8" r="4.7"/><circle cx="1370.0" cy="467.5" r="4.7"/><circle cx="1365.0" cy="463.8" r="4.7"/><circle cx="1360.0" cy="458.8" r="4.7"/><circle cx="1345.0" cy="477.5" r="4.7"/><circle cx="1352.5" cy="477.5" r="4.7"/><circle cx="1365.0" cy="446.2" r="4.7"/><circle cx="1372.5" cy="448.8" r="4.7"/><circle cx="1377.5" cy="442.5" r="4.7"/><circle cx="1383.8" cy="445.0" r="4.7"/><circle cx="1387.5" cy="447.5" r="4.7"/><circle cx="1376.2" cy="433.8" r="4.7"/><circle cx="1408.8" cy="437.5" r="4.7"/><circle cx="1417.5" cy="437.5" r="4.7"/><circle cx="1412.5" cy="445.0" r="4.7"/><circle cx="1421.2" cy="446.2" r="4.7"/><circle cx="1417.5" cy="455.0" r="4.7"/><circle cx="1412.5" cy="455.0" r="4.7"/><circle cx="1423.8" cy="440.0" r="4.7"/><circle cx="1320.0" cy="398.8" r="4.7"/><circle cx="1327.5" cy="400.0" r="4.7"/><circle cx="1315.0" cy="403.8" r="4.7"/><circle cx="1317.5" cy="416.2" r="4.7"/><circle cx="1312.5" cy="425.0" r="4.7"/><circle cx="1310.0" cy="415.0" r="4.7"/><circle cx="1325.0" cy="420.0" r="4.7"/><circle cx="1327.5" cy="391.2" r="4.7"/><circle cx="1396.2" cy="420.0" r="4.7"/><circle cx="1402.5" cy="423.8" r="4.7"/><circle cx="1408.8" cy="425.0" r="4.7"/><circle cx="1390.0" cy="425.0" r="4.7"/><circle cx="1427.5" cy="406.2" r="4.7"/><circle cx="1430.0" cy="412.5" r="4.7"/><circle cx="1435.0" cy="400.0" r="4.7"/><circle cx="1432.5" cy="425.0" r="4.7"/><circle cx="1427.5" cy="425.0" r="4.7"/><circle cx="1438.8" cy="412.5" r="4.7"/><circle cx="1401.2" cy="415.0" r="4.7"/><circle cx="1275.0" cy="416.2" r="4.7"/><circle cx="1271.2" cy="425.0" r="4.7"/><circle cx="1047.5" cy="448.8" r="4.7"/><circle cx="1055.0" cy="455.0" r="4.7"/><circle cx="1060.0" cy="460.0" r="4.7"/><circle cx="1052.5" cy="458.8" r="4.7"/><circle cx="1046.2" cy="460.0" r="4.7"/><circle cx="1070.0" cy="437.5" r="4.7"/><circle cx="1077.5" cy="442.5" r="4.7"/><circle cx="1083.8" cy="440.0" r="4.7"/><circle cx="1092.5" cy="437.5" r="4.7"/><circle cx="1098.8" cy="435.0" r="4.7"/><circle cx="1090.0" cy="448.8" r="4.7"/><circle cx="1065.0" cy="448.8" r="4.7"/><circle cx="1076.2" cy="435.0" r="4.7"/><circle cx="1172.5" cy="483.8" r="4.7"/><circle cx="1178.8" cy="486.2" r="4.7"/><circle cx="1175.0" cy="490.0" r="4.7"/><circle cx="1181.2" cy="487.5" r="4.7"/><circle cx="1173.8" cy="480.0" r="4.7"/><circle cx="1193.8" cy="446.2" r="4.7"/><circle cx="1191.2" cy="458.8" r="4.7"/><circle cx="1190.0" cy="465.0" r="4.7"/><circle cx="1227.5" cy="432.5" r="4.7"/><circle cx="1230.0" cy="440.0" r="4.7"/><circle cx="1228.8" cy="448.8" r="4.7"/><circle cx="1231.2" cy="455.0" r="4.7"/><circle cx="1237.5" cy="462.5" r="4.7"/><circle cx="642.5" cy="482.5" r="4.7"/><circle cx="643.8" cy="488.8" r="4.7"/><circle cx="660.0" cy="490.0" r="4.7"/><circle cx="656.2" cy="497.5" r="4.7"/><circle cx="661.2" cy="496.2" r="4.7"/><circle cx="651.2" cy="495.0" r="4.7"/><circle cx="650.0" cy="450.0" r="4.7"/><circle cx="652.5" cy="458.8" r="4.7"/><circle cx="678.8" cy="480.0" r="4.7"/><circle cx="672.5" cy="485.0" r="4.7"/><circle cx="682.5" cy="472.5" r="4.7"/><circle cx="675.0" cy="477.5" r="4.7"/><circle cx="1291.2" cy="317.5" r="4.7"/><circle cx="1286.2" cy="326.2" r="4.7"/><circle cx="1296.2" cy="340.0" r="4.7"/><circle cx="1302.5" cy="340.0" r="4.7"/><circle cx="1130.0" cy="357.5" r="4.7"/><circle cx="1135.0" cy="358.8" r="4.7"/><circle cx="1132.5" cy="367.5" r="4.7"/><circle cx="1138.8" cy="368.8" r="4.7"/><circle cx="1125.0" cy="363.8" r="4.7"/><circle cx="1122.5" cy="357.5" r="4.7"/><circle cx="1115.0" cy="357.5" r="4.7"/><circle cx="1158.8" cy="356.2" r="4.7"/><circle cx="1163.8" cy="363.8" r="4.7"/><circle cx="1395.0" cy="422.0" r="4.7"/><circle cx="1402.0" cy="425.0" r="4.7"/><circle cx="1408.0" cy="422.0" r="4.7"/><circle cx="1390.0" cy="428.0" r="4.7"/><circle cx="1397.0" cy="430.0" r="4.7"/><circle cx="1405.0" cy="432.0" r="4.7"/><circle cx="1376.0" cy="436.0" r="4.7"/><circle cx="1382.0" cy="436.0" r="4.7"/><circle cx="1388.0" cy="436.0" r="4.7"/><circle cx="1373.0" cy="442.0" r="4.7"/><circle cx="1380.0" cy="442.0" r="4.7"/><circle cx="1315.0" cy="425.0" r="4.7"/><circle cx="1325.0" cy="427.0" r="4.7"/><circle cx="1330.0" cy="422.0" r="4.7"/><circle cx="1320.0" cy="432.0" r="4.7"/><circle cx="1330.0" cy="432.0" r="4.7"/><circle cx="1308.0" cy="430.0" r="4.7"/><circle cx="1425.0" cy="405.0" r="4.7"/><circle cx="1426.0" cy="413.0" r="4.7"/><circle cx="266.9" cy="124.4" r="4.7"/></g></svg></body></html>
